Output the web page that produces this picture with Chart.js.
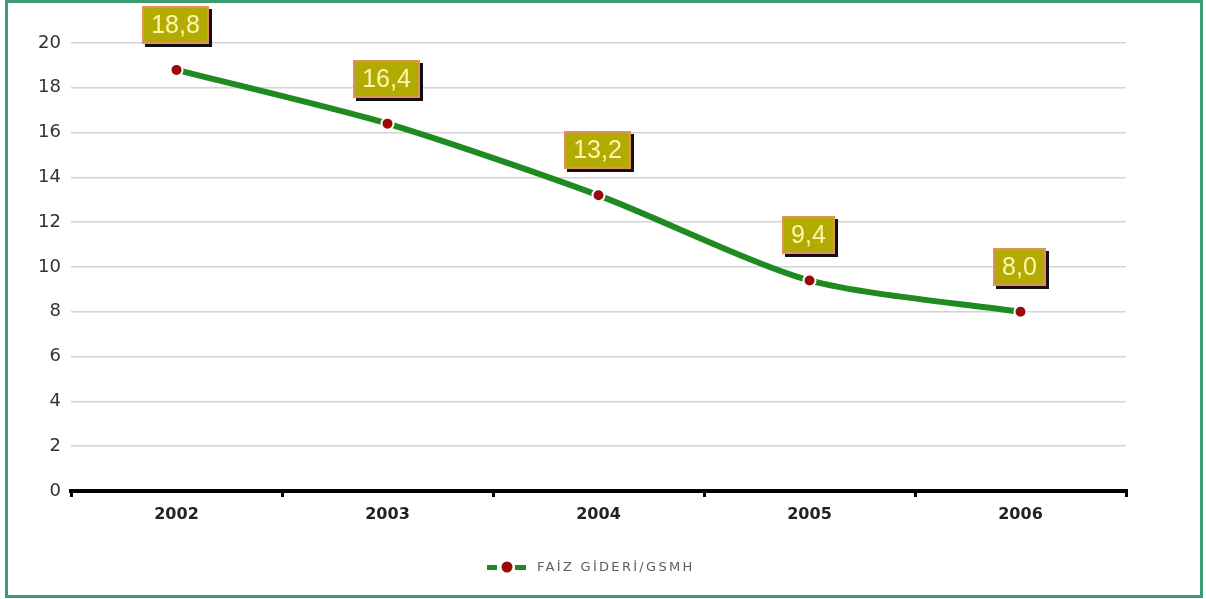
<!DOCTYPE html>
<html>
<head>
<meta charset="utf-8">
<script src="https://cdn.jsdelivr.net/npm/chart.js@4/dist/chart.umd.min.js"></script>
<style>
  html, body { margin: 0; padding: 0; background: #fff; }
  #frame {
    position: absolute; left: 5px; top: 0; width: 1192px; height: 592px;
    border: 3px solid #3f9a72; background: #fff;
  }
  #wrap { position: absolute; left: 0; top: 0; width: 1192px; height: 592px; }
</style>
</head>
<body>
<div id="frame"><div id="wrap"><canvas id="chart"></canvas></div></div>
<script>
const years = ["2002", "2003", "2004", "2005", "2006"];
const faizGideri = [18.8, 16.4, 13.2, 9.4, 8.0];
const yTicks = [0, 2, 4, 6, 8, 10, 12, 14, 16, 18, 20];
const seriesName = "FAİZ GİDERİ/GSMH";

const lineGreen = "#1f8a1f";
const dotRed = "#9a0a0a";

// value boxes above each point
const valueBoxes = {
  id: "valueBoxes",
  afterDatasetsDraw(chart) {
    const { ctx } = chart;
    const meta = chart.getDatasetMeta(0);
    ctx.save();
    ctx.font = "25px 'Liberation Sans', Arial, sans-serif";
    ctx.textAlign = "center";
    ctx.textBaseline = "middle";
    meta.data.forEach((pt, i) => {
      const text = faizGideri[i].toFixed(1).replace(".", ",");
      const w = Math.round(ctx.measureText(text).width + 18), h = 38;
      const cx = pt.x - 1, cy = pt.y - 45;
      const x = Math.round(cx - w / 2), y = Math.round(cy - h / 2);
      ctx.fillStyle = "#111";
      ctx.fillRect(x + 3, y + 3, w, h);
      ctx.fillStyle = "#b4ab02";
      ctx.fillRect(x, y, w, h);
      ctx.strokeStyle = "#e0905a";
      ctx.lineWidth = 2;
      ctx.strokeRect(x + 1, y + 1, w - 2, h - 2);
      ctx.fillStyle = "#fbf7b0";
      ctx.fillText(text, cx, cy + 1);
    });
    ctx.restore();
  }
};

// legend drawn by hand: green dashes, red dot, spaced text
const bottomLegend = {
  id: "bottomLegend",
  afterDraw(chart) {
    const { ctx } = chart;
    const y = 564;
    ctx.save();
    ctx.fillStyle = lineGreen;
    ctx.fillRect(479, y - 2, 10, 5);
    ctx.fillRect(507, y - 2, 11, 5);
    ctx.beginPath();
    ctx.arc(499, y, 5.5, 0, Math.PI * 2);
    ctx.fillStyle = dotRed;
    ctx.fill();
    ctx.font = "13px 'DejaVu Sans', Verdana, sans-serif";
    ctx.letterSpacing = "2.3px";
    ctx.fillStyle = "#5e5e5e";
    ctx.textAlign = "left";
    ctx.textBaseline = "middle";
    ctx.fillText(seriesName, 529, y + 1);
    ctx.restore();
  }
};

new Chart(document.getElementById("chart"), {
  type: "line",
  data: {
    labels: years,
    datasets: [{
      label: seriesName,
      data: faizGideri,
      borderColor: lineGreen,
      borderWidth: 6,
      tension: 0.25,
      pointBackgroundColor: dotRed,
      pointBorderColor: "#ffffff",
      pointBorderWidth: 2,
      pointRadius: 6
    }]
  },
  options: {
    responsive: true,
    maintainAspectRatio: false,
    animation: false,
    layout: { padding: { left: 0, right: 74, top: 40, bottom: 0 } },
    scales: {
      x: {
        offset: true,
        afterFit(scale) { scale.height = 104; },
        border: { display: true, color: "#000", width: 4 },
        grid: { display: true, drawOnChartArea: false, offset: true, tickLength: 6, color: "#000", lineWidth: 3 },
        ticks: {
          color: "#222",
          padding: 8,
          font: { family: "'DejaVu Sans', Verdana, sans-serif", size: 16, weight: "bold" }
        }
      },
      y: {
        min: 0,
        max: 20,
        afterFit(scale) { scale.width = 63; },
        afterBuildTicks(scale) { scale.ticks = yTicks.map((v) => ({ value: v })); },
        border: { display: false },
        grid: { color: "#d4d4d4", lineWidth: 1.5, drawTicks: false },
        ticks: {
          color: "#333",
          padding: 10,
          font: { family: "'DejaVu Sans', Verdana, sans-serif", size: 18 }
        }
      }
    },
    plugins: {
      legend: { display: false },
      tooltip: { enabled: false }
    }
  },
  plugins: [valueBoxes, bottomLegend]
});
</script>
</body>
</html>
